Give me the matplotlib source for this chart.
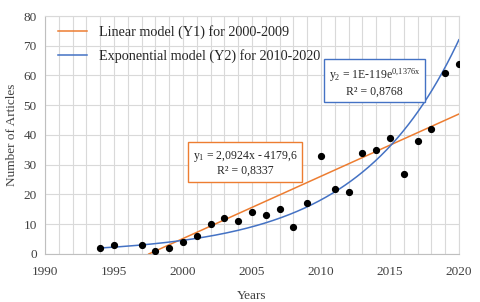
import numpy as np
import matplotlib
matplotlib.use("Agg")
import matplotlib.pyplot as plt
from matplotlib.ticker import MultipleLocator

plt.rcParams['font.family'] = ['Liberation Serif', 'DejaVu Serif']
plt.rcParams['mathtext.fontset'] = 'custom'
plt.rcParams['mathtext.rm'] = 'Liberation Serif'
plt.rcParams['mathtext.it'] = 'Liberation Serif'

years = [1994, 1995, 1997, 1998, 1999, 2000, 2001, 2002, 2003, 2004, 2005, 2006, 2007,
         2008, 2009, 2010, 2011, 2012, 2013, 2014, 2015, 2016, 2017, 2018, 2019, 2020]
articles = [2, 3, 3, 1, 2, 4, 6, 10, 12, 11, 14, 13, 15,
            9, 17, 33, 22, 21, 34, 35, 39, 27, 38, 42, 61, 64]

# model parameters (as printed on the chart)
lin_slope, lin_intercept = 2.0924, -4179.6
exp_rate = 0.1376
exp_value_2020 = 72.0   # displayed curve value at 2020 (coefficient 1E-119 is rounded)

orange = '#ED7D31'
blue = '#4472C4'
grid_c = '#D9D9D9'

fig = plt.figure(figsize=(4.8, 3.02), dpi=100)
ax = fig.add_axes([0.094, 0.159, 0.862, 0.788])

x_lin = np.linspace(-lin_intercept / lin_slope, 2020, 200)
y_lin = lin_slope * x_lin + lin_intercept
x_exp = np.linspace(1994, 2020, 300)
y_exp = exp_value_2020 * np.exp(exp_rate * (x_exp - 2020))

ax.plot(x_lin, y_lin, color=orange, lw=1.1, label='Linear model (Y1) for 2000-2009', zorder=3)
ax.plot(x_exp, y_exp, color=blue, lw=1.1, label='Exponential model (Y2) for 2010-2020', zorder=3)
ax.plot(years, articles, 'o', color='black', ms=4.2, zorder=4, label='_nolegend_')

ax.set_xlim(1990, 2020)
ax.set_ylim(0, 80)
ax.xaxis.set_major_locator(MultipleLocator(5))
ax.xaxis.set_minor_locator(MultipleLocator(1))
ax.yaxis.set_major_locator(MultipleLocator(10))
ax.grid(which='both', axis='x', color=grid_c, lw=0.8)
ax.grid(which='major', axis='y', color=grid_c, lw=0.8)
ax.set_axisbelow(True)
for s in ax.spines.values():
    s.set_color(grid_c)
    s.set_linewidth(0.8)
ax.spines['left'].set_color('#BFBFBF')
ax.spines['bottom'].set_color('#BFBFBF')
ax.tick_params(which='both', length=0, labelsize=9.5, colors='#404040')
ax.tick_params(axis='x', pad=9)
ax.tick_params(axis='y', pad=6)
ax.set_xlabel('Years', fontsize=9.5, color='#404040', labelpad=8)
ax.set_ylabel('Number of Articles', fontsize=9.5, color='#404040', labelpad=4)

leg = ax.legend(loc='upper left', frameon=False, fontsize=10.2, handlelength=2.05,
                handletextpad=0.9, labelspacing=0.68, borderaxespad=0.25,
                bbox_to_anchor=(0.008, 1.0))
for t in leg.get_texts():
    t.set_color('#262626')

ax.text(2004.5, 30.6, 'y$_1$ = 2,0924x - 4179,6\nR² = 0,8337', ha='center', va='center',
        fontsize=8.5, color='#262626', linespacing=1.15,
        bbox=dict(boxstyle='square,pad=0.4', fc='white', ec=orange, lw=1.0), zorder=5)
ax.text(2013.9, 57.8, 'y$_2$ = 1E-119e$^{0{,}1376x}$\nR² = 0,8768', ha='center', va='center',
        fontsize=8.5, color='#262626', linespacing=1.15,
        bbox=dict(boxstyle='square,pad=0.4', fc='white', ec=blue, lw=1.0), zorder=5)

fig.savefig('out.png', dpi=100)
